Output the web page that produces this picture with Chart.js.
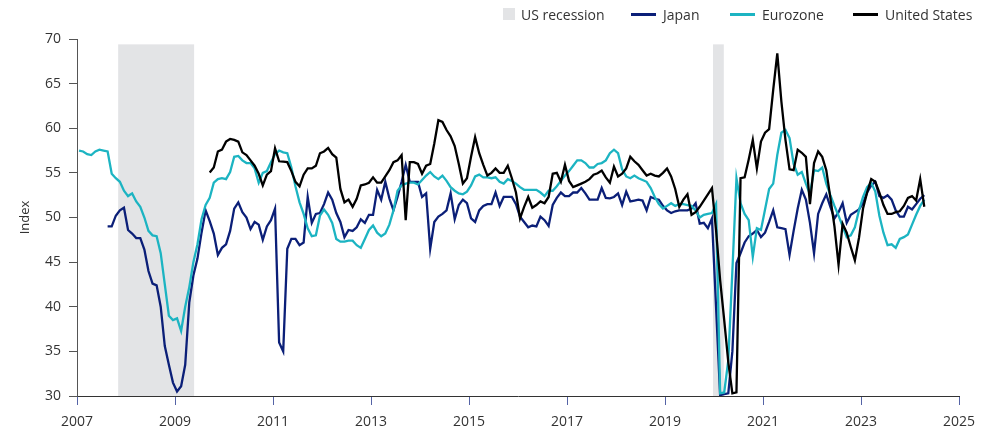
<!DOCTYPE html>
<html>
<head>
<meta charset="utf-8">
<title>Index</title>
<script src="https://cdn.jsdelivr.net/npm/chart.js@4.4.1/dist/chart.umd.min.js"></script>
<style>
  body { margin: 0; background: #fff; font-family: "Open Sans", sans-serif; }
  #wrap { position: relative; width: 991px; height: 430px; }
  .item { position: absolute; top: 4px; height: 20px; display: flex; align-items: center; font-size: 14px; color: #333; white-space: nowrap; }
  .box { width: 12px; height: 12px; background: #e3e4e6; margin-right: 6px; }
  .line { width: 25px; height: 3px; margin-right: 7px; }
</style>
</head>
<body>
<div id="wrap">
  <canvas id="grafico"></canvas>
  <div class="item" style="left:503px"><span class="box"></span>US recession</div>
  <div class="item" style="left:631px"><span class="line" style="background:#0b1f78"></span>Japan</div>
  <div class="item" style="left:730px"><span class="line" style="background:#1cb4c2"></span>Eurozone</div>
  <div class="item" style="left:853px"><span class="line" style="background:#000"></span>United States</div>
</div>
<script>
/* ================= DADOS ================= */
// monthly values, first month given as [year, month]
const euroStart = [2007, 1];
const euroValues = [
  57.5, 57.4, 57.1, 57.0, 57.4, 57.6, 57.5, 57.4, 54.9, 54.4,
  54.0, 53.0, 52.4, 52.7, 51.8, 51.2, 50.0, 48.5, 48.0, 47.9,
  46.0, 42.5, 39.0, 38.5, 38.7, 37.3, 40.0, 42.2, 45.0, 47.0,
  49.8, 51.4, 52.2, 53.9, 54.3, 54.4, 54.3, 55.1, 56.8, 56.9,
  56.4, 56.1, 56.1, 55.5, 53.9, 55.0, 55.2, 56.2, 57.1, 57.5,
  57.3, 57.2, 55.6, 53.5, 51.7, 50.4, 48.8, 47.9, 48.0, 50.2,
  50.9, 50.3, 49.4, 47.6, 47.3, 47.3, 47.4, 47.4, 46.9, 46.6,
  47.6, 48.6, 49.1, 48.3, 47.9, 48.2, 49.2, 50.8, 53.0, 53.6,
  53.8, 53.9, 53.9, 53.7, 54.2, 54.7, 55.1, 54.6, 54.3, 54.7,
  54.1, 53.4, 53.0, 52.7, 52.6, 52.9, 53.6, 54.6, 54.8, 54.5,
  54.5, 54.4, 54.5, 54.0, 53.8, 54.3, 54.1, 53.8, 53.4, 53.1,
  53.1, 53.1, 53.1, 52.8, 52.4, 53.0, 53.0, 53.5, 54.1, 54.7,
  55.2, 55.8, 56.4, 56.4, 56.1, 55.6, 55.6, 56.0, 56.1, 56.4,
  57.2, 57.6, 57.2, 55.4, 54.6, 54.4, 54.7, 54.4, 54.2, 54.0,
  53.3, 52.3, 51.5, 51.0, 51.3, 51.6, 51.3, 51.5, 51.5, 51.4,
  51.3, 50.8, 50.0, 50.3, 50.4, 50.5,
  51.5, 30.3, 30.4, 34.0, 44.0, 54.4, 51.6, 50.4, 49.7, 45.6,
  48.8, 48.6, 50.9, 53.2, 53.8, 57.0, 59.5, 59.8, 58.9, 56.0,
  54.8, 55.1, 53.8, 52.6, 55.3, 55.2, 55.6, 53.8, 52.5, 51.3,
  50.2, 49.0, 47.8, 48.0, 48.9, 50.8, 52.3, 53.4, 53.9, 52.9,
  50.2, 48.3, 46.9, 47.0, 46.6, 47.6, 47.8, 48.1, 49.2, 50.3,
  51.3, 52.0
];

const japanStart = [2007, 8];
const japanValues = [
  49.0, 49.0, 50.2,
  50.8, 51.1, 48.6, 48.2, 47.7, 47.7, 46.4, 44.0, 42.6, 42.4,
  40.0, 35.6, 33.5, 31.5, 30.5, 31.1, 33.5, 40.5, 43.5, 45.4,
  48.3, 50.8, 49.6, 48.2, 45.8, 46.6, 47.0, 48.5, 51.0, 51.7,
  50.6, 50.0, 48.7, 49.5, 49.2, 47.5, 49.0, 49.7,
  51.0, 36.0, 35.0, 46.5, 47.6, 47.6, 46.9, 47.2, 52.3, 49.4,
  50.4, 50.5, 51.5, 52.8, 52.0, 50.5, 49.5, 47.8, 48.6, 48.5,
  48.9, 49.8, 49.4, 50.3, 50.3,
  53.1, 52.0, 54.0, 52.15, 50.8, 52.3, 54.0,
  55.9, 54.0, 54.0, 54.0, 52.3, 52.7, 46.5, 49.5, 50.1, 50.4,
  50.8, 52.7, 49.8, 51.4, 52.0, 51.6, 49.9, 49.5, 50.8, 51.3,
  51.5, 51.5, 52.8, 51.3, 52.3, 52.3, 52.3, 51.5, 50.1, 49.5,
  48.9, 49.1, 49.0, 50.1, 49.7, 49.05, 51.4, 52.2, 52.8, 52.4,
  52.4, 52.8, 52.8, 53.3, 52.7, 52.0, 52.0, 52.0, 53.3, 52.2,
  52.15, 52.3, 52.7, 51.4, 52.9, 51.8, 51.9, 52.0, 51.9, 50.8,
  52.3, 52.1, 52.0, 51.3, 50.8, 50.5, 50.7, 50.8, 50.8, 50.8,
  51.0, 51.6, 49.3, 49.4, 48.8, 49.9, 40.0, 30.1, 30.2, 30.3,
  35.0, 44.9, 46.0, 47.2, 47.9, 48.2, 48.6, 47.8, 48.3, 49.5,
  50.8, 48.9, 48.8, 48.7, 45.8, 48.5, 51.0, 53.1, 52.0, 49.4,
  46.0, 50.4, 51.6, 52.6, 51.2, 49.9, 50.6, 51.6, 49.4, 50.3,
  50.6, 50.9, 51.6, 52.8, 53.6, 54.0, 52.4, 52.2, 52.5, 52.0,
  50.8, 50.1, 50.1, 51.2, 50.9, 51.5, 52.1, 52.5
];

const usStart = [2009, 9];
const usValues = [
  55.05, 55.6, 57.4, 57.6, 58.5, 58.8, 58.7, 58.5, 57.3, 57.0,
  56.4, 55.8, 54.9, 53.6, 54.8, 55.2, 57.75, 56.3, 56.25, 56.2,
  55.2, 54.0, 53.5, 54.8, 55.5, 55.5, 55.8, 57.2, 57.4, 57.8,
  57.1, 56.7, 53.2, 51.7, 52.0, 51.2, 52.1, 53.6, 53.7, 53.9,
  54.5, 53.9, 53.9, 54.6, 55.3, 56.2, 56.4, 57.0, 49.7, 56.2,
  56.2, 56.0, 54.9, 55.8, 56.0, 58.3, 60.9, 60.7, 59.8, 59.1,
  58.0, 56.0, 53.8, 54.4, 56.8, 59.0, 57.2, 55.9, 54.7, 55.0,
  55.5, 55.0, 55.0, 55.8, 54.4, 52.8, 49.9, 51.2, 52.3, 51.1,
  51.4, 51.8, 51.6, 52.3, 54.9, 55.0, 54.0, 55.9, 54.1, 53.4,
  53.6, 53.8, 54.0, 54.3, 54.8, 54.95, 55.25, 54.5, 53.9, 55.7,
  54.6, 54.9, 55.5, 56.8, 56.3, 55.9, 55.3, 54.7, 54.9, 54.7,
  54.6, 55.0, 55.5, 54.6, 53.2, 51.2, 52.0, 52.6, 50.3, 50.6,
  51.2, 51.9, 52.6, 53.3, 48.6, 43.0, 38.5, 33.8, 30.3, 30.4,
  54.4, 54.5, 56.5, 58.7, 55.5, 58.5, 59.5, 59.9, 64.3, 68.4,
  63.0, 58.7, 55.4, 55.3, 57.6, 57.25, 56.8, 51.5, 56.1, 57.4,
  56.8, 55.3, 52.2, 49.0, 44.7, 49.3, 48.3, 46.7, 45.2, 47.7,
  51.0, 52.8, 54.3, 54.0, 52.8, 51.4, 50.4, 50.4, 50.6, 50.7,
  51.3, 52.2, 52.4, 51.9, 54.3, 51.2
];

// US recessions (decimal years)
const recessionStart = [2007.84, 2019.98];
const recessionEnd = [2009.39, 2020.2];
const recessionTop = 69.4;

const xTickYears = [2007, 2009, 2011, 2013, 2015, 2017, 2019, 2021, 2023, 2025];
const yTickValues = [30, 35, 40, 45, 50, 55, 60, 65, 70];

/* ================= FUNÇÕES AUXILIARES ================= */
function montarPontos(inicio, valores) {
  return valores.map((v, i) => ({
    x: inicio[0] + (inicio[1] - 1 + i + 0.5) / 12,
    y: v
  }));
}

function serie(label, inicio, valores, cor, ordem) {
  return {
    label: label,
    data: montarPontos(inicio, valores),
    borderColor: cor,
    borderWidth: 2.3,
    pointRadius: 0,
    tension: 0,
    order: ordem
  };
}

// grey bands behind the lines
const faixasRecessao = {
  id: "faixasRecessao",
  beforeDatasetsDraw(chart) {
    const { ctx, scales: { x, y } } = chart;
    ctx.save();
    ctx.fillStyle = "#e3e4e6";
    recessionStart.forEach((ini, i) => {
      const x0 = x.getPixelForValue(ini);
      const x1 = x.getPixelForValue(recessionEnd[i]);
      const y0 = y.getPixelForValue(recessionTop);
      const y1 = y.getPixelForValue(30);
      ctx.fillRect(x0, y0, x1 - x0, y1 - y0);
    });
    ctx.restore();
  }
};

/* ================= GRÁFICO ================= */
Chart.defaults.font.family = "'Open Sans', sans-serif";
Chart.defaults.font.size = 14;
Chart.defaults.color = "#333";

new Chart(document.getElementById("grafico"), {
  type: "line",
  data: {
    datasets: [
      serie("Japan", japanStart, japanValues, "#0b1f78", 2),
      serie("Eurozone", euroStart, euroValues, "#1cb4c2", 1),
      serie("United States", usStart, usValues, "#000000", 0)
    ]
  },
  options: {
    responsive: true,
    maintainAspectRatio: false,
    animation: false,
    layout: { padding: { top: 39, right: 32, left: 0, bottom: 0 } },
    plugins: { legend: { display: false }, tooltip: { enabled: false } },
    scales: {
      x: {
        type: "linear",
        min: 2007,
        max: 2025,
        afterBuildTicks: s => { s.ticks = xTickYears.map(v => ({ value: v })); },
        afterFit: s => { s.height = 34; },
        ticks: { padding: 9, callback: v => String(v), maxRotation: 0 },
        grid: { drawOnChartArea: false, drawTicks: true, tickLength: 9, tickColor: "#5563a6" },
        border: { display: true, color: "#333", width: 1 }
      },
      y: {
        min: 30,
        max: 70,
        afterBuildTicks: s => { s.ticks = yTickValues.map(v => ({ value: v })); },
        afterFit: s => { s.width = 77; },
        ticks: { padding: 8 },
        grid: { drawOnChartArea: false, drawTicks: true, tickLength: 8, tickColor: "#555" },
        border: { display: true, color: "#555", width: 1 },
        title: { display: true, text: "Index", font: { size: 13 }, padding: { top: 17, bottom: 0 } }
      }
    }
  },
  plugins: [faixasRecessao]
});
</script>
</body>
</html>
